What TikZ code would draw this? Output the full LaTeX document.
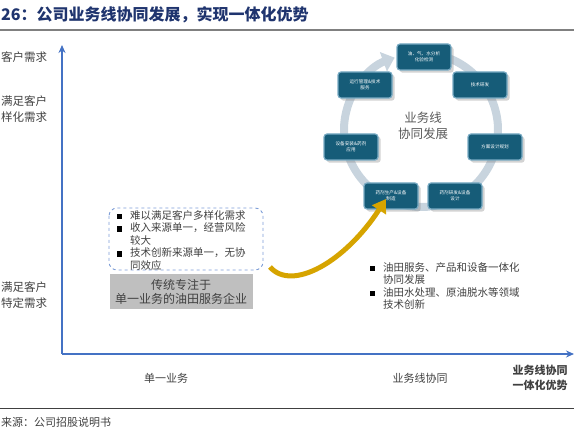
\documentclass[tikz,border=0pt]{standalone}
\usepackage{fontspec}
\setmainfont{Noto Sans CJK SC}
\usetikzlibrary{arrows.meta,shadows,calc}

\definecolor{axisblue}{RGB}{68,114,196}
\definecolor{titlenavy}{RGB}{31,52,110}
\definecolor{ringgray}{RGB}{200,212,222}
\definecolor{stagefill}{RGB}{22,92,120}
\definecolor{stageedge}{RGB}{120,170,195}
\definecolor{arrowgold}{RGB}{214,164,0}
\definecolor{txtgray}{RGB}{64,64,64}

\newcommand\sqbullet{\makebox[1.3em][l]{\textcolor{black}{\rule{5.5pt}{5.5pt}}}}
\newcommand\sqindent{\hspace*{1.3em}}

\tikzset{
  stage/.style={draw=stageedge, line width=1.2pt, fill=stagefill, rounded corners=3pt,
    minimum width=54pt, minimum height=26pt, text width=46pt, align=center,
    text=white, font=\fontsize{4.6}{6}\selectfont, drop shadow={opacity=0.35}},
  axislabel/.style={text=txtgray, font=\fontsize{11}{15}\selectfont, align=center},
  sidelabel/.style={text=txtgray, font=\fontsize{11.5}{16}\selectfont, align=left, anchor=west, inner xsep=0pt},
  bullets/.style={text=txtgray, font=\fontsize{10.5}{12.5}\selectfont, align=left, anchor=north west},
}

\begin{document}
\begin{tikzpicture}[x=1pt,y=-1pt]
  \useasboundingbox (0,0) rectangle (574,435);

  % title and rules
  \node[anchor=west, inner xsep=0pt, text=titlenavy, font=\bfseries\fontsize{16}{16}\selectfont] (title) at (1,15) {26：公司业务线协同发展，实现一体化优势};
  \draw[gray, line width=1.5pt] (0,30) -- (574,30);
  \draw[black!75, line width=1pt] (0,409) -- (574,409);
  \node[anchor=west, inner xsep=0pt, text=txtgray, font=\fontsize{11}{11}\selectfont] (source) at (1,422) {来源：公司招股说明书};

  % axes
  \coordinate (o) at (62,354);
  \coordinate (ytop) at (62,45);
  \coordinate (xend) at (574,354);
  \draw[axisblue, line width=2pt, -{Stealth[length=8pt,width=7pt]}] (o) -- (ytop);
  \draw[axisblue, line width=2pt, -{Stealth[length=8pt,width=7pt]}] (o) -- (xend);

  \node[sidelabel] (need1) at (1,57) {客户需求};
  \node[sidelabel] (need2) at (1,109) {满足客户\\样化需求};
  \node[sidelabel] (need3) at (1,295) {满足客户\\特定需求};

  \node[axislabel] (x1) at (166,378) {单一业务};
  \node[axislabel] (x2) at (420,378) {业务线协同};
  \node[axislabel, font=\bfseries\fontsize{11}{15}\selectfont] (x3) at (540,378) {业务线协同\\一体化优势};

  % left side
  \draw[axisblue!70, dashed, line width=0.9pt, rounded corners=8pt] (109,208) rectangle (263,270);
  \node[bullets, text width=145pt] (pain) at (113,207)
    {\sqbullet 难以满足客户多样化需求\\\sqbullet 收入来源单一，经营风险\\\sqindent 较大\\\sqbullet 技术创新来源单一，无协\\\sqindent 同效应};
  \node[fill=black!25, minimum width=143pt, minimum height=35pt, align=center,
    text=txtgray, font=\fontsize{12}{13.5}\selectfont] (trad) at (181,292)
    {传统专注于\\单一业务的油田服务企业};

  % cycle
  \coordinate (c) at (421,130);
  \draw[ringgray, line width=8pt, -{Triangle[length=12pt,width=20pt]}]
    ($(c)+(-80:77)$) arc[start angle=-80, end angle=250, radius=77];
  \node[text=black!65, align=center, font=\fontsize{12.5}{16}\selectfont] (core) at (423,126) {业务线\\协同发展};

  \node[stage] (s1) at (424,57)  {油、气、水分析\\化验检测};
  \node[stage] (s2) at (480,85)  {技术研发};
  \node[stage] (s3) at (495,147) {方案设计规划};
  \node[stage] (s4) at (455,196) {药剂研发\&设备\\设计};
  \node[stage] (s5) at (391,196) {药剂生产\&设备\\制造};
  \node[stage] (s6) at (351,147) {设备安装\&药剂\\应用};
  \node[stage] (s7) at (365,85)  {运行管理\&技术\\服务};

  % transition arrow
  \coordinate (from) at (270,267);
  \draw[arrowgold, line width=5pt, -{Triangle[length=13pt,width=16pt]}]
    (from) .. controls (292,292) and (345,262) .. (386,199);

  % right side
  \node[bullets, text width=190pt] (gain) at (366,259)
    {\sqbullet 油田服务、产品和设备一体化\\\sqindent 协同发展\\\sqbullet 油田水处理、原油脱水等领域\\\sqindent 技术创新};
\end{tikzpicture}
\end{document}
